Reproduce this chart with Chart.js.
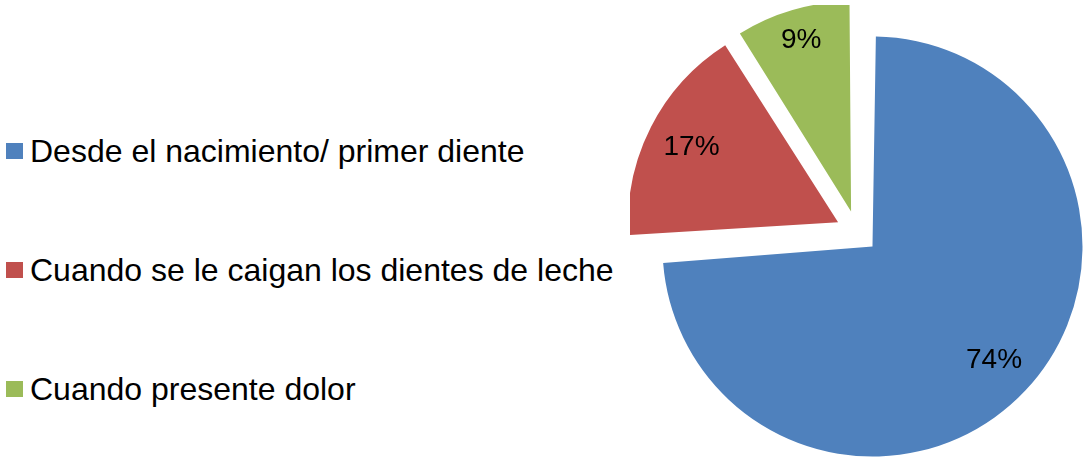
<!DOCTYPE html>
<html>
<head>
<meta charset="utf-8">
<title>Pie</title>
<script src="https://cdn.jsdelivr.net/npm/chart.js@4.4.0/dist/chart.umd.min.js"></script>
<style>
  html, body { margin: 0; padding: 0; background: #fff; }
  body { width: 1084px; height: 458px; position: relative; overflow: hidden;
         font-family: "Liberation Sans", Arial, sans-serif; }
  #legend { position: absolute; left: 6px; top: 0; }
  .item { position: absolute; left: 0; display: flex; align-items: center; white-space: nowrap;
          font-size: 32px; line-height: 36px; color: #000; }
  .box { width: 17px; height: 16px; margin-right: 7px; flex: none; }
  #wrap { position: absolute; left: 630px; top: 5px; width: 454px; height: 454px; }
</style>
</head>
<body>
<div id="legend"></div>
<div id="wrap"><canvas id="pie"></canvas></div>
<script>
  const categories = ['Desde el nacimiento/ primer diente', 'Cuando se le caigan los dientes de leche', 'Cuando presente dolor'];
  const values = [74, 17, 9];
  const colors = ['#4F81BD', '#C0504D', '#9BBB59'];

  const explode = 85; // chart.js shifts an arc by offset/4

  // legend on the left, one row per category
  function renderLegend() {
    const lg = document.getElementById('legend');
    lg.innerHTML = '';
    categories.forEach((c, i) => {
      const row = document.createElement('div');
      row.className = 'item';
      row.style.top = (133 + i * 119) + 'px';
      row.innerHTML = `<span class="box" style="background:${colors[i]}"></span><span>${c}</span>`;
      lg.appendChild(row);
    });
  }

  // offset also grows the radius of wide slices; take that back so all slices match
  const evenRadius = {
    id: 'evenRadius',
    afterDatasetsUpdate(chart) {
      chart.getDatasetMeta(0).data.forEach(arc => {
        const shift = (arc.options.offset || 0) / 4;
        const fix = 1 - Math.sin(Math.min(Math.PI, arc.circumference));
        arc.outerRadius -= shift * fix;
      });
    }
  };

  // percent labels, kept a fixed gap inside the rim (like excel's best fit)
  const pctLabels = {
    id: 'pctLabels',
    afterDatasetsDraw(chart) {
      const ctx = chart.ctx;
      const meta = chart.getDatasetMeta(0);
      const R = meta.controller.outerRadius;
      const total = values.reduce((a, b) => a + b, 0);
      ctx.save();
      ctx.font = '28px "Liberation Sans", Arial, sans-serif';
      ctx.fillStyle = '#000';
      ctx.textAlign = 'center';
      ctx.textBaseline = 'middle';
      meta.data.forEach((arc, i) => {
        const txt = Math.round(values[i] / total * 100) + '%';
        const w = ctx.measureText(txt).width;
        const mid = (arc.startAngle + arc.endAngle) / 2;
        const ext = Math.abs(Math.cos(mid)) * w / 2 + Math.abs(Math.sin(mid)) * 10;
        const d = (arc.options.offset || 0) / 4 + R - 16 - ext;
        ctx.fillText(txt, arc.x + Math.cos(mid) * d, arc.y + Math.sin(mid) * d);
      });
      ctx.restore();
    }
  };

  function drawPie() {
    const ctx = document.getElementById('pie').getContext('2d');
    new Chart(ctx, {
      type: 'pie',
      data: {
        labels: categories,
        datasets: [{
          data: values,
          backgroundColor: colors,
          borderWidth: 0,
          offset: explode
        }]
      },
      options: {
        responsive: true,
        maintainAspectRatio: false,
        animation: false,
        events: [],
        radius: 210,
        layout: { padding: 0 },
        plugins: {
          legend: { display: false },
          tooltip: { enabled: false }
        }
      },
      plugins: [evenRadius, pctLabels]
    });
  }

  renderLegend();
  drawPie();
</script>
</body>
</html>
